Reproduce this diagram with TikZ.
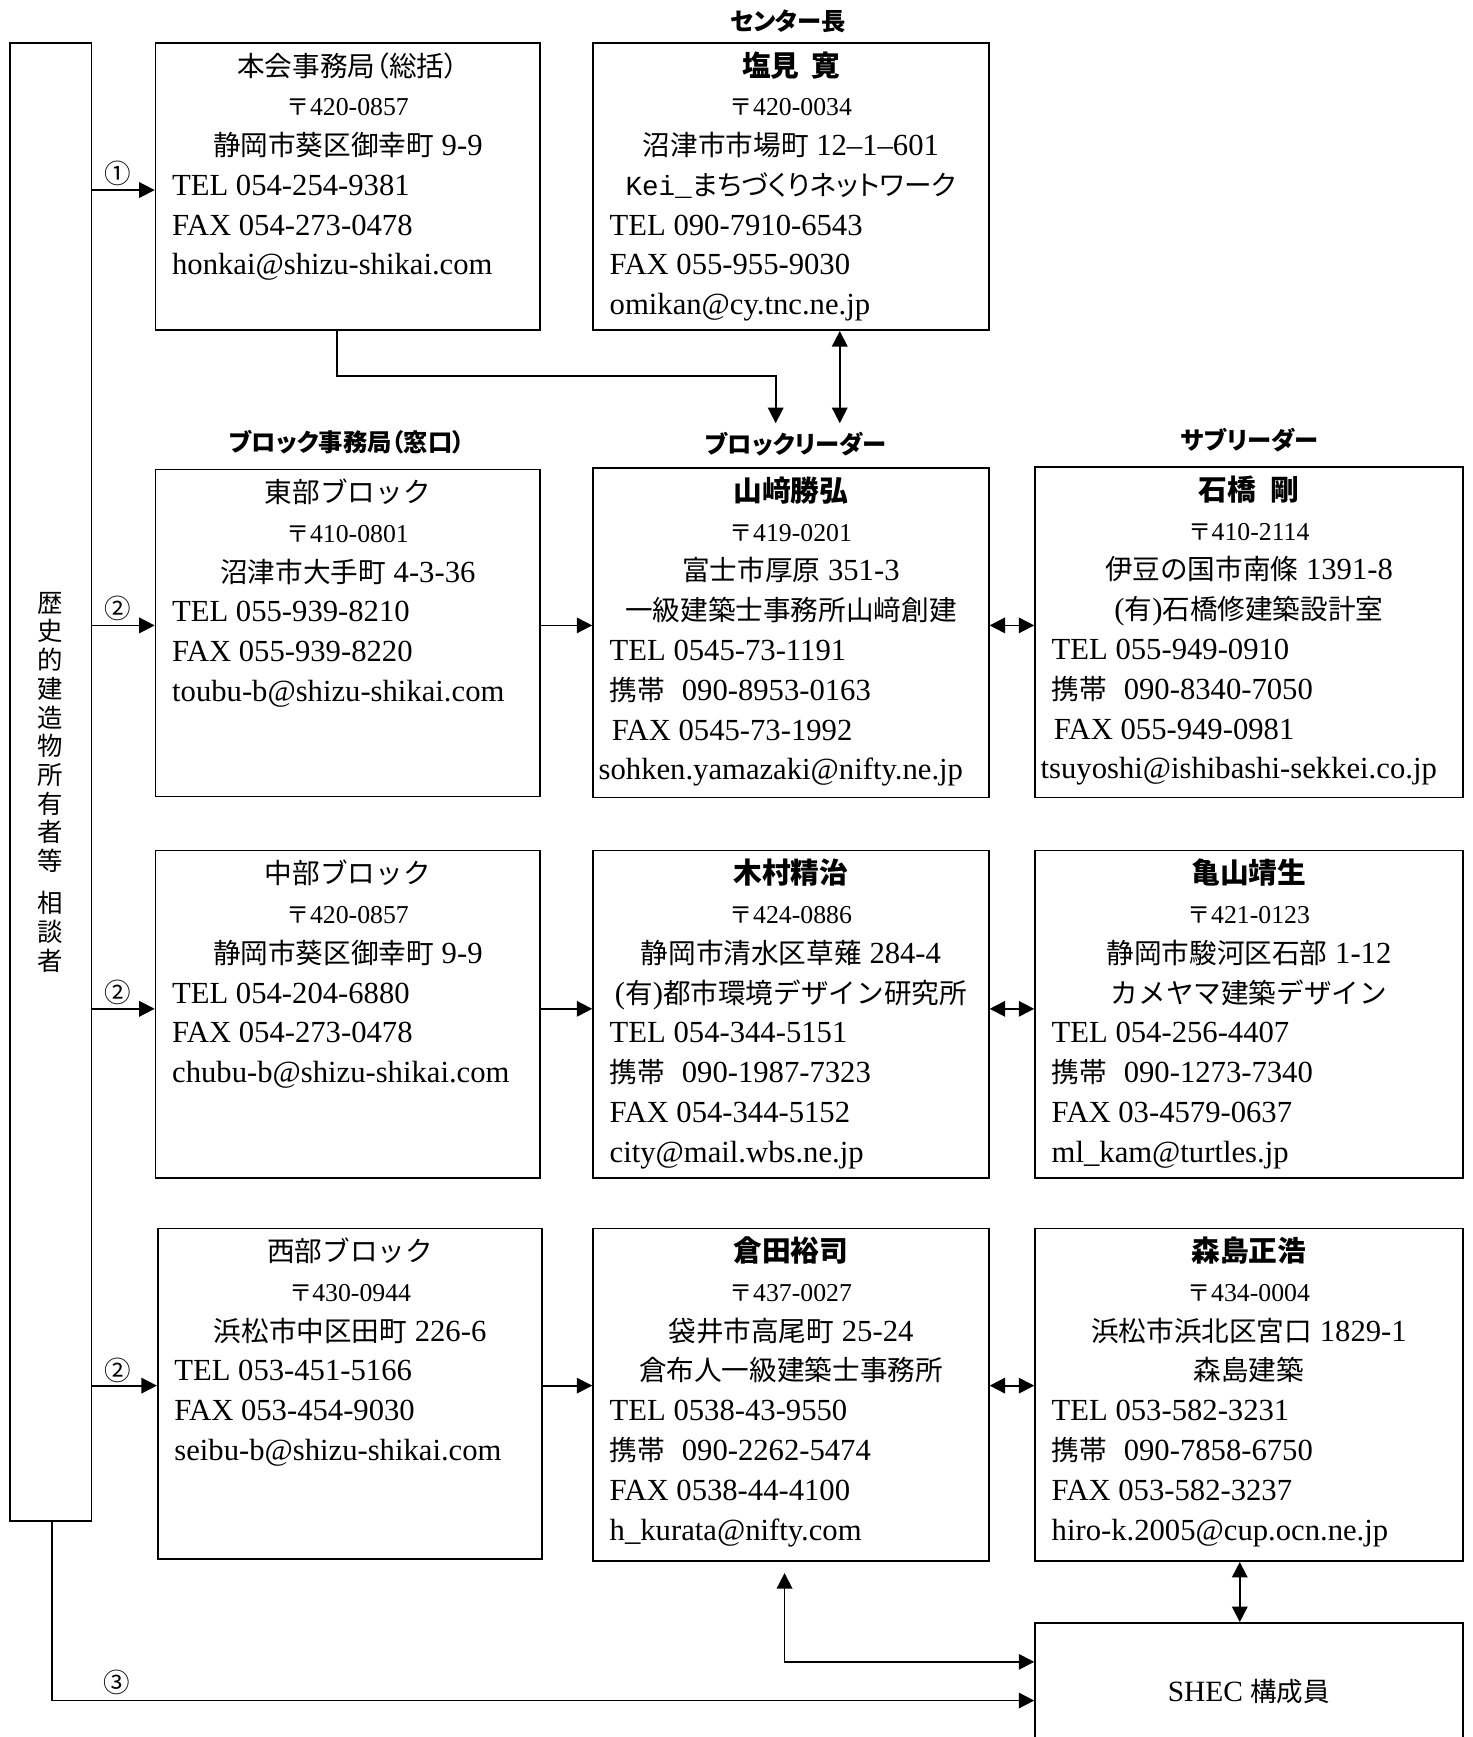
\documentclass[tikz,border=0pt]{standalone}
\usepackage{fontspec}
\setmainfont{Liberation Serif}[Scale=1.11]
\newfontfamily\J{Noto Sans CJK JP}
\newfontfamily\Jp{Noto Sans CJK JP}[RawFeature=+palt]
\newfontfamily\mono{Liberation Mono}
\usetikzlibrary{arrows.meta}
\newcommand\bx[3]{\vbox to #2{\hsize=#1\relax\fontsize{12.5}{18}\selectfont\kern-3pt\prevdepth=0pt\relax #3\vss}}
\newcommand\ctr[1]{\hbox to\hsize{\hss#1\hss}}
\newcommand\lft[2][7.5pt]{\hbox to\hsize{\kern#1#2\hss}}
\newcommand\pst[1]{\ctr{\fontsize{10.5}{18}\selectfont{\J 〒}#1}}
\newcommand\nm[1]{\ctr{\fontsize{13}{18}\selectfont\J\bfseries #1}}
\newcommand\kt{{\J 携帯}\hspace{0.55em}}
\tikzset{
  box/.style={draw, line width=0.8pt, inner sep=0pt, anchor=north west},
  hdr/.style={font=\Jp\bfseries\fontsize{11}{13}\selectfont, inner sep=1pt},
  num/.style={font=\J\fontsize{12}{14}\selectfont, inner sep=0pt},
  arr/.style={line width=0.8pt, -{Triangle[length=7pt,width=7pt]}},
  darr/.style={line width=0.8pt, {Triangle[length=7pt,width=7pt]}-{Triangle[length=7pt,width=7pt]}},
  ln/.style={line width=0.8pt}
}
\begin{document}
\begin{tikzpicture}[x=0.5pt,y=-0.5pt]
\useasboundingbox (0,0) rectangle (1333,1572);

% left box
\node[box, minimum width=37pt, minimum height=669pt, align=center,
      font=\J\fontsize{11.5}{13}\selectfont] (L) at (8,38)
  {歴\\史\\的\\建\\造\\物\\所\\有\\者\\等\\[6pt]相\\談\\者};

% headers
\node[hdr] (hC) at (713,19) {センター長};
\node[hdr] (hB1) at (314,400) {ブロック事務局（窓口）};
\node[hdr] (hB2) at (720,402) {ブロックリーダー};
\node[hdr] (hB3) at (1131,398) {サブリーダー};

% row 1
\node[box] (B1) at (140,38) {\bx{174pt}{130pt}{%
  \ctr{\Jp 本会事務局（総括）}
  \pst{420-0857}
  \ctr{{\J 静岡市葵区御幸町} 9-9}
  \lft{TEL 054-254-9381}
  \lft{FAX 054-273-0478}
  \lft{honkai@shizu-shikai.com}}};
\node[box] (B2) at (536,38) {\bx{179pt}{130pt}{%
  \nm{塩見\hspace{0.4em}寛}
  \pst{420-0034}
  \ctr{{\J 沼津市市場町} 12–1–601}
  \ctr{{\mono Kei\_}{\Jp まちづくりネットワーク}}
  \lft{TEL 090-7910-6543}
  \lft{FAX 055-955-9030}
  \lft{omikan@cy.tnc.ne.jp}}};

% row 2
\node[box] (E1) at (140,424) {\bx{174pt}{148pt}{%
  \ctr{\J 東部ブロック}
  \pst{410-0801}
  \ctr{{\J 沼津市大手町} 4-3-36}
  \lft{TEL 055-939-8210}
  \lft{FAX 055-939-8220}
  \lft{toubu-b@shizu-shikai.com}}};
\node[box] (E2) at (536,423) {\bx{179pt}{149pt}{%
  \nm{山﨑勝弘}
  \pst{419-0201}
  \ctr{{\J 富士市厚原} 351-3}
  \ctr{\J 一級建築士事務所山﨑創建}
  \lft{TEL 0545-73-1191}
  \lft{\kt 090-8953-0163}
  \lft[8.5pt]{FAX 0545-73-1992}
  \lft[2.5pt]{sohken.yamazaki@nifty.ne.jp}}};
\node[box] (E3) at (936,422) {\bx{193.5pt}{149.5pt}{%
  \nm{石橋\hspace{0.5em}剛}
  \pst{410-2114}
  \ctr{{\J 伊豆の国市南條} 1391-8}
  \ctr{({\J 有}){\J 石橋修建築設計室}}
  \lft{TEL 055-949-0910}
  \lft{\kt 090-8340-7050}
  \lft[8.5pt]{FAX 055-949-0981}
  \lft[2.5pt]{tsuyoshi@ishibashi-sekkei.co.jp}}};

% row 3
\node[box] (C1) at (140,769) {\bx{174pt}{148pt}{%
  \ctr{\J 中部ブロック}
  \pst{420-0857}
  \ctr{{\J 静岡市葵区御幸町} 9-9}
  \lft{TEL 054-204-6880}
  \lft{FAX 054-273-0478}
  \lft{chubu-b@shizu-shikai.com}}};
\node[box] (C2) at (536,769) {\bx{179pt}{148pt}{%
  \nm{木村精治}
  \pst{424-0886}
  \ctr{{\J 静岡市清水区草薙} 284-4}
  \ctr{({\J 有}){\J 都市環境デザイン研究所}}
  \lft{TEL 054-344-5151}
  \lft{\kt 090-1987-7323}
  \lft{FAX 054-344-5152}
  \lft{city@mail.wbs.ne.jp}}};
\node[box] (C3) at (936,769) {\bx{193.5pt}{148pt}{%
  \nm{亀山靖生}
  \pst{421-0123}
  \ctr{{\J 静岡市駿河区石部} 1-12}
  \ctr{\J カメヤマ建築デザイン}
  \lft{TEL 054-256-4407}
  \lft{\kt 090-1273-7340}
  \lft{FAX 03-4579-0637}
  \lft{ml\_kam@turtles.jp}}};

% row 4
\node[box] (W1) at (142,1111) {\bx{174pt}{149.5pt}{%
  \ctr{\J 西部ブロック}
  \pst{430-0944}
  \ctr{{\J 浜松市中区田町} 226-6}
  \lft{TEL 053-451-5166}
  \lft{FAX 053-454-9030}
  \lft{seibu-b@shizu-shikai.com}}};
\node[box] (W2) at (536,1111) {\bx{179pt}{150.5pt}{%
  \nm{倉田裕司}
  \pst{437-0027}
  \ctr{{\J 袋井市高尾町} 25-24}
  \ctr{\J 倉布人一級建築士事務所}
  \lft{TEL 0538-43-9550}
  \lft{\kt 090-2262-5474}
  \lft{FAX 0538-44-4100}
  \lft{h\_kurata@nifty.com}}};
\node[box] (W3) at (936,1111) {\bx{193.5pt}{150.5pt}{%
  \nm{森島正浩}
  \pst{434-0004}
  \ctr{{\J 浜松市浜北区宮口} 1829-1}
  \ctr{\J 森島建築}
  \lft{TEL 053-582-3231}
  \lft{\kt 090-7858-6750}
  \lft{FAX 053-582-3237}
  \lft{hiro-k.2005@cup.ocn.ne.jp}}};

% SHEC
\node[box, minimum width=193.5pt, minimum height=62pt,
      font=\fontsize{12}{15}\selectfont] (S) at (936,1468) {SHEC {\J 構成員}};

% circled numbers
\node[num] (n1) at (107,157) {①};
\node[num] (n2a) at (107,551) {②};
\node[num] (n2b) at (107,898) {②};
\node[num] (n2c) at (107,1240) {②};
\node[num] (n3) at (106,1523) {③};

% coordinates for connectors
\coordinate (y1) at (0,172);
\coordinate (y2) at (0,566);
\coordinate (y3) at (0,913);
\coordinate (y4) at (0,1254);
\coordinate (t1) at (305,340);
\coordinate (t2) at (702,383);
\coordinate (t3) at (760,383);
\coordinate (b1) at (1122,0);
\coordinate (k1) at (710,1504);
\coordinate (k2) at (47,1539);

% connectors
\draw[arr] (L.east |- y1) -- (B1.west |- y1);
\draw[arr] (L.east |- y2) -- (E1.west |- y2);
\draw[arr] (L.east |- y3) -- (C1.west |- y3);
\draw[arr] (L.east |- y4) -- (W1.west |- y4);
\draw[arr] (E1.east |- y2) -- (E2.west |- y2);
\draw[arr] (C1.east |- y3) -- (C2.west |- y3);
\draw[arr] (W1.east |- y4) -- (W2.west |- y4);
\draw[darr] (E2.east |- y2) -- (E3.west |- y2);
\draw[darr] (C2.east |- y3) -- (C3.west |- y3);
\draw[darr] (W2.east |- y4) -- (W3.west |- y4);
\draw[arr] (B1.south -| t1) |- (t2 |- t1) -- (t2);
\draw[darr] (B2.south -| t3) -- (t3);
\draw[darr] (W3.south -| b1) -- (S.north -| b1);
\draw[darr] ([yshift=-5pt]W2.south -| k1) -- (k1) -- (S.west |- k1);
\draw[arr] (L.south -| k2) -- (k2) -- (S.west |- k2);
\end{tikzpicture}
\end{document}
